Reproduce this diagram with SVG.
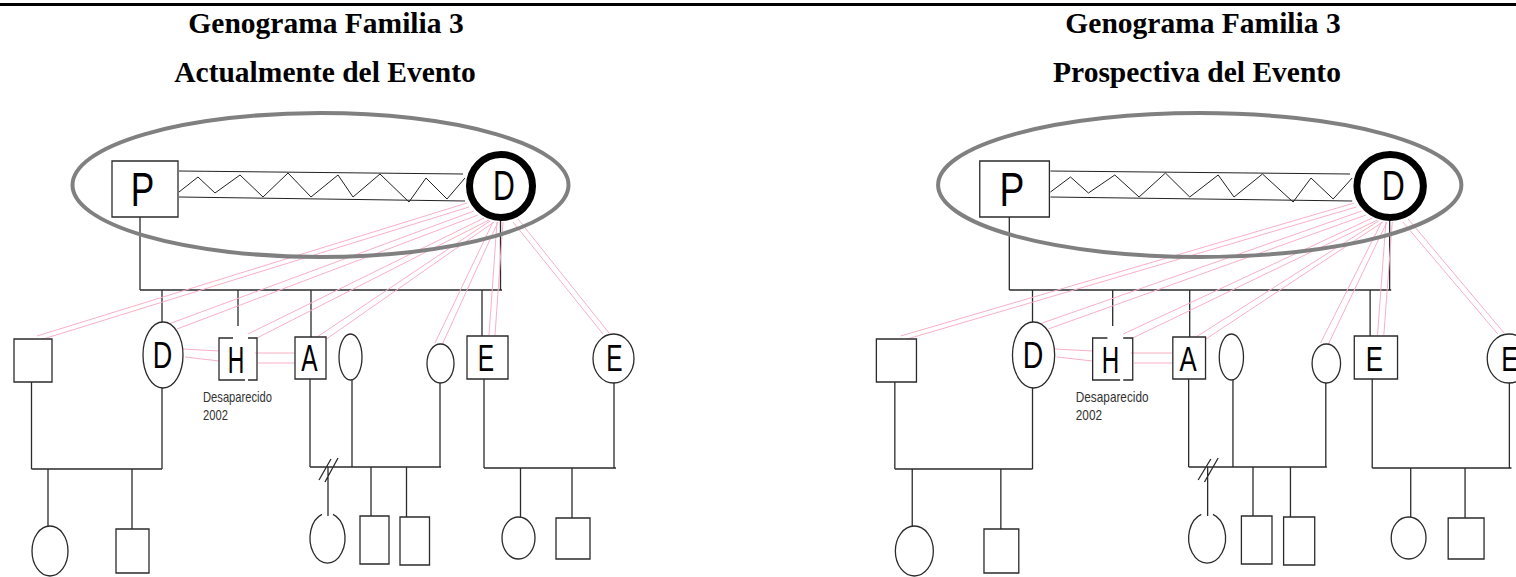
<svg xmlns="http://www.w3.org/2000/svg" width="1516" height="577" viewBox="0 0 1516 577">
<style>
.ln{stroke:#2b2b2b;stroke-width:1.3;fill:none;vector-effect:non-scaling-stroke}
.nd{stroke:#2b2b2b;stroke-width:1.3;fill:#fff;vector-effect:non-scaling-stroke}
.pk{stroke:#f9b0c6;stroke-width:1;fill:none;vector-effect:non-scaling-stroke}
.grp{stroke:#808080;stroke-width:4;fill:none;vector-effect:non-scaling-stroke}
.dd{stroke:#000;stroke-width:7;fill:#fff;vector-effect:non-scaling-stroke}
.zz{stroke:#222;stroke-width:1;fill:none;vector-effect:non-scaling-stroke}
.big{font-family:"Liberation Sans",Arial,sans-serif;fill:#000;text-anchor:middle}
.ttl{font-family:"Liberation Serif","Times New Roman",serif;font-weight:bold;font-size:29.5px;text-anchor:middle;fill:#000}
.lbl{font-family:"Liberation Sans",Arial,sans-serif;font-size:14px;fill:#333}
</style>
<rect x="0" y="3" width="1516" height="3" fill="#000"/>
<text class="ttl" x="326" y="33">Genograma Familia 3</text>
<text class="ttl" x="325" y="82">Actualmente del Evento</text>
<text class="ttl" x="1203" y="33">Genograma Familia 3</text>
<text class="ttl" x="1197" y="82">Prospectiva del Evento</text>

<g id="panel-left">
<g id="connectors-left">
<path class="ln" d="M140,217V290M500.5,221V290M140,290H502M162,290V322M238,290V326M311,290V337M482,290V336"/>
<path class="ln" d="M31.5,382V469M162,388V469M31.5,469H162M48,469V526M132,469V529"/>
<path class="ln" d="M310,379V467M352,380V467M440,383V467M310,467H441M328,467V516M371,467V516M406.5,467V517M319,480L331,459M325,482L338,458"/>
<path class="ln" d="M484,379V468M614,383V468M484,468H616M520.5,468V517M572,468V518"/>
<path class="zz" d="M179,171L463,174M179,197L465,201M179,192L198,177L215,193L240,175L263,197L288,173L311,197L338,175L353,197L380,174L409,202L426,178L447,199L465,178"/>
<path class="pk" d="M467,203L37,336M469,207L40,340M474,211L166,325M478,215L177,329M484,218L248,334M489,220L255,339M490,221L317,337M494,222L325,340M493,222L435,343M498,222L442,345M497,222L489,335M503,222L495,335M513,222L603,334M518,219L609,333M183,349L219,351M185,357L219,361M255,353L295,353M258,363L295,363"/>
</g>
<g id="node-P"><rect class="nd" x="112" y="161" width="66" height="56"/><text class="big" font-size="49" transform="translate(142.5,206) scale(0.72,1)">P</text></g>
<g id="node-D"><circle class="dd" cx="501" cy="186" r="31.5"/><text class="big" font-size="42" transform="translate(504,200) scale(0.72,1)">D</text></g>
<g id="node-son1"><rect class="nd" x="14" y="339" width="38" height="43"/></g>
<g id="node-D2"><ellipse class="nd" cx="163" cy="355" rx="20" ry="33"/><text class="big" font-size="36" transform="translate(162.5,368) scale(0.75,1)">D</text></g>
<g id="node-H"><path class="ln" d="M233,338H219V380H245M248,380H257V338H248"/><text class="big" font-size="37" transform="translate(236,373) scale(0.62,1)">H</text><text class="lbl" transform="translate(203,402) scale(0.8,1)">Desaparecido</text><text class="lbl" transform="translate(203,420) scale(0.8,1)">2002</text></g>
<g id="node-A"><rect class="nd" x="295" y="337" width="31" height="42"/><text class="big" font-size="36" transform="translate(309.5,371) scale(0.68,1)">A</text></g>
<g id="node-wifeA1"><ellipse class="nd" cx="350.5" cy="357" rx="11.5" ry="23"/></g>
<g id="node-wifeA2"><ellipse class="nd" cx="440.5" cy="363.5" rx="13.5" ry="19.5"/></g>
<g id="node-E1"><rect class="nd" x="467" y="336" width="41" height="43"/><text class="big" font-size="36" transform="translate(486,371) scale(0.68,1)">E</text></g>
<g id="node-E2"><ellipse class="nd" cx="613.5" cy="358.5" rx="20.5" ry="24.5"/><text class="big" font-size="36" transform="translate(614.5,371) scale(0.68,1)">E</text></g>
<g id="node-gc1"><ellipse class="nd" cx="50" cy="551" rx="18" ry="25"/></g>
<g id="node-gc2"><rect class="nd" x="116" y="529" width="33" height="44"/></g>
<g id="node-gc3"><path class="ln" d="M322,514.3A17.5,25 0 1,0 333,514.3"/></g>
<g id="node-gc4"><rect class="nd" x="360" y="516" width="29" height="48"/></g>
<g id="node-gc5"><rect class="nd" x="400" y="517" width="29.5" height="48"/></g>
<g id="node-gc6"><ellipse class="nd" cx="518.5" cy="538" rx="16.5" ry="21"/></g>
<g id="node-gc7"><rect class="nd" x="556" y="518" width="34" height="41"/></g>
<g id="group-ellipse-left"><ellipse class="grp" cx="320.5" cy="185" rx="248" ry="72"/></g>
</g>

<g id="panel-right" transform="matrix(1.055 0 0 1 861.6 0)">
<g id="connectors-right">
<path class="ln" d="M140,217V290M500.5,221V290M140,290H502M162,290V322M238,290V326M311,290V337M482,290V336"/>
<path class="ln" d="M31.5,382V469M162,388V469M31.5,469H162M48,469V526M132,469V529"/>
<path class="ln" d="M310,379V467M352,380V467M440,383V467M310,467H441M328,467V516M371,467V516M406.5,467V517M319,480L331,459M325,482L338,458"/>
<path class="ln" d="M484,379V468M614,383V468M484,468H616M520.5,468V517M572,468V518"/>
<path class="zz" d="M179,171L463,174M179,197L465,201M179,192L198,177L215,193L240,175L263,197L288,173L311,197L338,175L353,197L380,174L409,202L426,178L447,199L465,178"/>
<path class="pk" d="M467,203L37,336M469,207L40,340M474,211L166,325M478,215L177,329M484,218L248,334M489,220L255,339M490,221L317,337M494,222L325,340M493,222L435,343M498,222L442,345M497,222L489,335M503,222L495,335M513,222L603,334M518,219L609,333M183,349L219,351M185,357L219,361M255,353L295,353M258,363L295,363"/>
</g>
<g id="node-P-r"><rect class="nd" x="112" y="161" width="66" height="56"/><text class="big" font-size="49" transform="translate(142.5,206) scale(0.72,1)">P</text></g>
<g id="node-D-r"><circle class="dd" cx="501" cy="186" r="31.5"/><text class="big" font-size="42" transform="translate(504,200) scale(0.72,1)">D</text></g>
<g id="node-son1-r"><rect class="nd" x="14" y="339" width="38" height="43"/></g>
<g id="node-D2-r"><ellipse class="nd" cx="163" cy="355" rx="20" ry="33"/><text class="big" font-size="36" transform="translate(162.5,368) scale(0.75,1)">D</text></g>
<g id="node-H-r"><path class="ln" d="M233,338H219V380H245M248,380H257V338H248"/><text class="big" font-size="37" transform="translate(236,373) scale(0.62,1)">H</text><text class="lbl" transform="translate(203,402) scale(0.8,1)">Desaparecido</text><text class="lbl" transform="translate(203,420) scale(0.8,1)">2002</text></g>
<g id="node-A-r"><rect class="nd" x="295" y="337" width="31" height="42"/><text class="big" font-size="36" transform="translate(309.5,371) scale(0.68,1)">A</text></g>
<g id="node-wifeA1-r"><ellipse class="nd" cx="350.5" cy="357" rx="11.5" ry="23"/></g>
<g id="node-wifeA2-r"><ellipse class="nd" cx="440.5" cy="363.5" rx="13.5" ry="19.5"/></g>
<g id="node-E1-r"><rect class="nd" x="467" y="336" width="41" height="43"/><text class="big" font-size="36" transform="translate(486,371) scale(0.68,1)">E</text></g>
<g id="node-E2-r"><ellipse class="nd" cx="613.5" cy="358.5" rx="20.5" ry="24.5"/><text class="big" font-size="36" transform="translate(614.5,371) scale(0.68,1)">E</text></g>
<g id="node-gc1-r"><ellipse class="nd" cx="50" cy="551" rx="18" ry="25"/></g>
<g id="node-gc2-r"><rect class="nd" x="116" y="529" width="33" height="44"/></g>
<g id="node-gc3-r"><path class="ln" d="M322,514.3A17.5,25 0 1,0 333,514.3"/></g>
<g id="node-gc4-r"><rect class="nd" x="360" y="516" width="29" height="48"/></g>
<g id="node-gc5-r"><rect class="nd" x="400" y="517" width="29.5" height="48"/></g>
<g id="node-gc6-r"><ellipse class="nd" cx="518.5" cy="538" rx="16.5" ry="21"/></g>
<g id="node-gc7-r"><rect class="nd" x="556" y="518" width="34" height="41"/></g>
<g id="group-ellipse-right"><ellipse class="grp" cx="320.5" cy="185" rx="248" ry="72"/></g>
</g>
</svg>
